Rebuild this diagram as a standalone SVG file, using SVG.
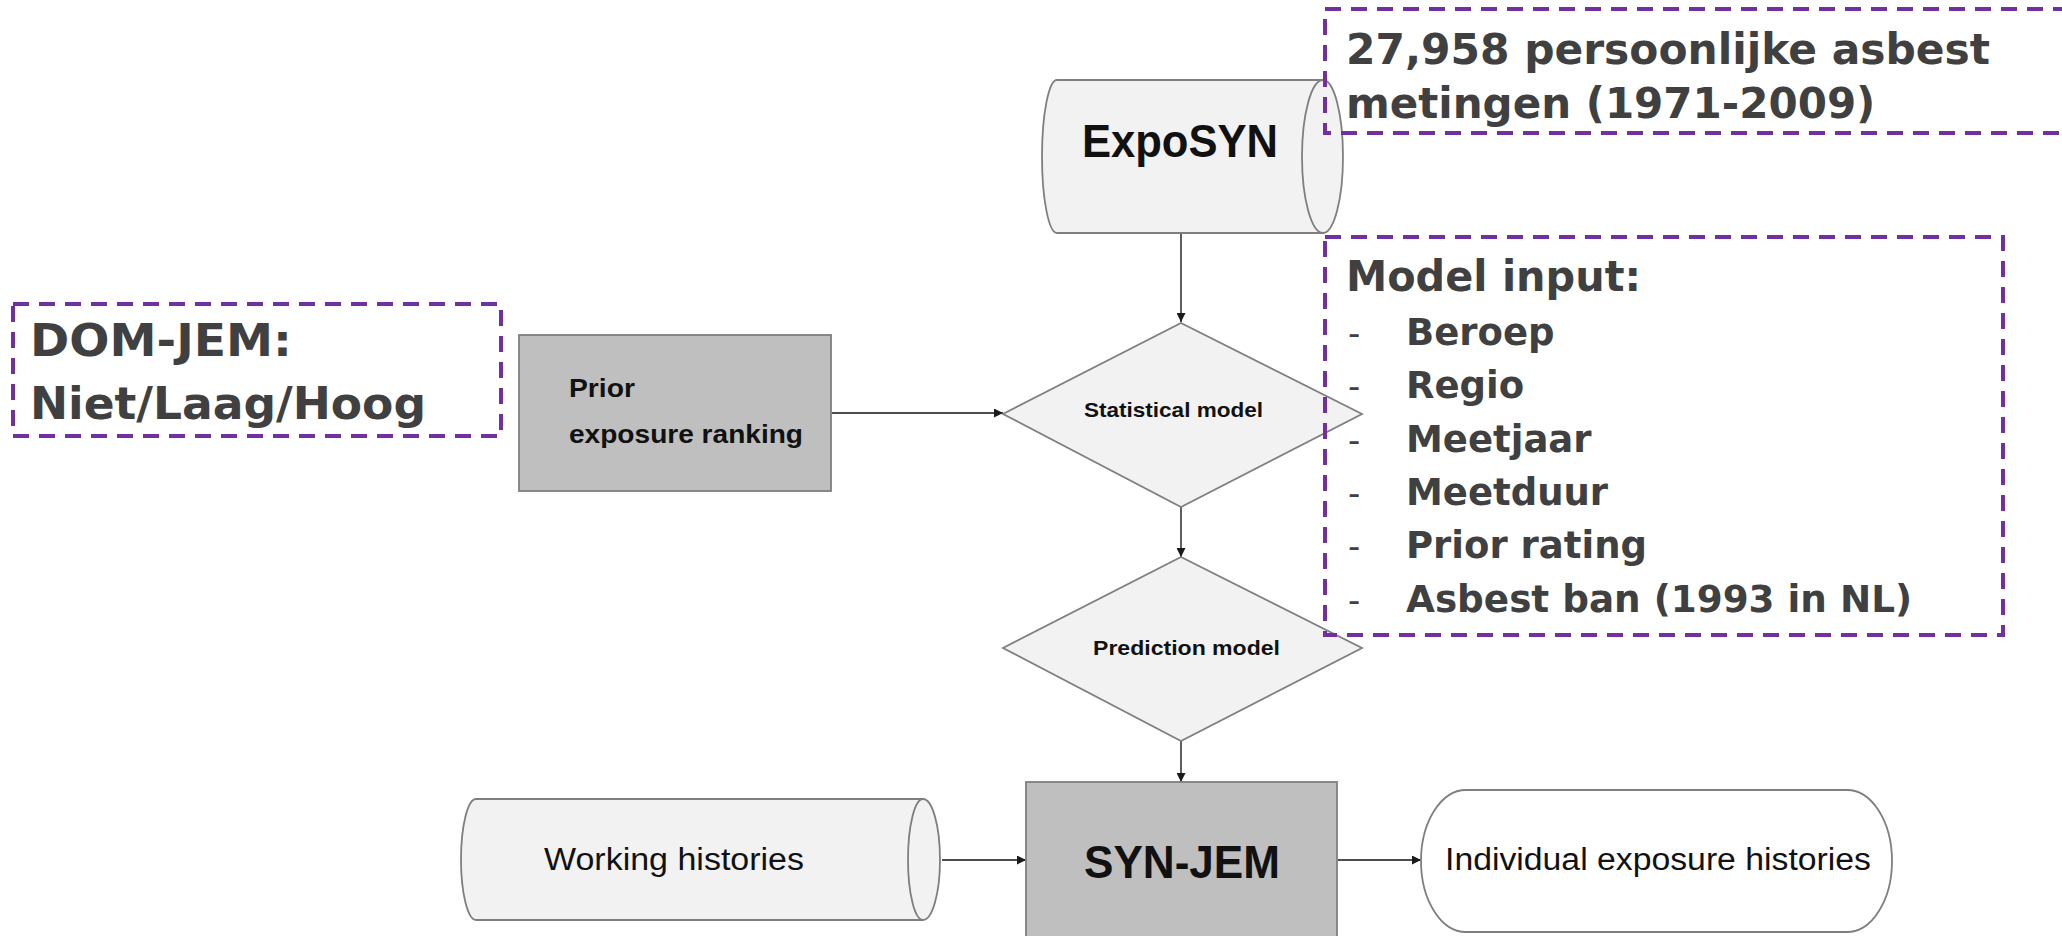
<svg xmlns="http://www.w3.org/2000/svg" width="2062" height="936" viewBox="0 0 2062 936">
<style>
.shape{fill:#F2F2F2;stroke:#7F7F7F;stroke-width:1.8}
.dark{fill:#BFBFBF;stroke:#7F7F7F;stroke-width:1.8}
.white{fill:#FFFFFF;stroke:#7F7F7F;stroke-width:1.8}
.conn{stroke:#4D4D4D;stroke-width:1.8;fill:none;marker-end:url(#arr)}
.note{fill:none;stroke:#7030A0;stroke-width:4;stroke-dasharray:16 10}
.nt{font-family:"Liberation Sans",Arial,sans-serif;fill:#111}
.ht{font-family:"DejaVu Sans",Verdana,sans-serif;font-weight:bold;fill:#404040}
.dash{font-family:"DejaVu Sans",Verdana,sans-serif;fill:#404040;font-size:34px}
</style>
<defs>
<marker id="arr" viewBox="0 0 10 10" refX="10" refY="5" markerWidth="9" markerHeight="9" markerUnits="userSpaceOnUse" orient="auto">
<path d="M0,0 L10,5 L0,10 Z" fill="#1a1a1a"/>
</marker>
</defs>

<g id="connectors">
<line class="conn" x1="1181" y1="234" x2="1181" y2="322"/>
<line class="conn" x1="832" y1="413" x2="1003" y2="413"/>
<line class="conn" x1="1181" y1="507" x2="1181" y2="557"/>
<line class="conn" x1="1181" y1="741" x2="1181" y2="782"/>
<line class="conn" x1="942" y1="860" x2="1026" y2="860"/>
<line class="conn" x1="1338" y1="860" x2="1421" y2="860"/>
</g>

<g id="exposyn">
<path class="shape" d="M1057,80 L1323,80 A20,76.5 0 0 1 1323,233 L1057,233 A15,76.5 0 0 1 1057,80 Z"/>
<path class="shape" d="M1323,80 A21,76.5 0 0 0 1323,233" fill="none"/>
<text class="nt" x="1180" y="157" font-size="47" font-weight="bold" text-anchor="middle" textLength="196" lengthAdjust="spacingAndGlyphs">ExpoSYN</text>
</g>

<g id="prior">
<rect class="dark" x="519" y="335" width="312" height="156"/>
<text class="nt" x="569" y="397" font-size="25" font-weight="bold" textLength="66" lengthAdjust="spacingAndGlyphs">Prior</text>
<text class="nt" x="569" y="443" font-size="25" font-weight="bold" textLength="234" lengthAdjust="spacingAndGlyphs">exposure ranking</text>
</g>

<g id="statistical">
<polygon class="shape" points="1181,323 1362,414 1181,507 1003,414"/>
<text class="nt" x="1084" y="417" font-size="21" font-weight="bold" textLength="179" lengthAdjust="spacingAndGlyphs">Statistical model</text>
</g>

<g id="prediction">
<polygon class="shape" points="1181,557 1362,648 1181,741 1003,648"/>
<text class="nt" x="1093" y="655" font-size="21" font-weight="bold" textLength="187" lengthAdjust="spacingAndGlyphs">Prediction model</text>
</g>

<g id="working">
<path class="shape" d="M476,799 L923,799 A17,60.5 0 0 1 923,920 L476,920 A15,60.5 0 0 1 476,799 Z"/>
<path class="shape" d="M923,799 A15,60.5 0 0 0 923,920" fill="none"/>
<text class="nt" x="674" y="870" font-size="31" text-anchor="middle" textLength="260" lengthAdjust="spacingAndGlyphs">Working histories</text>
</g>

<g id="synjem">
<rect class="dark" x="1026" y="782" width="311" height="170"/>
<text class="nt" x="1182" y="878" font-size="46" font-weight="bold" text-anchor="middle" textLength="196" lengthAdjust="spacingAndGlyphs">SYN-JEM</text>
</g>

<g id="individual">
<rect class="white" x="1421" y="790" width="471" height="142" rx="45" ry="71"/>
<text class="nt" x="1658" y="870" font-size="31" text-anchor="middle" textLength="426" lengthAdjust="spacingAndGlyphs">Individual exposure histories</text>
</g>

<g id="note-exposyn">
<rect class="note" x="1325" y="9" width="760" height="124"/>
<text class="ht" x="1346" y="64" font-size="42" textLength="644" lengthAdjust="spacingAndGlyphs">27,958 persoonlijke asbest</text>
<text class="ht" x="1346" y="118" font-size="42">metingen (1971-2009)</text>
</g>

<g id="note-domjem">
<rect class="note" x="13" y="304" width="488" height="132"/>
<text class="ht" x="30" y="356" font-size="44" textLength="262" lengthAdjust="spacingAndGlyphs">DOM-JEM:</text>
<text class="ht" x="30" y="419" font-size="44" textLength="396" lengthAdjust="spacingAndGlyphs">Niet/Laag/Hoog</text>
</g>

<g id="note-model">
<rect class="note" x="1325" y="237" width="678" height="398"/>
<text class="ht" x="1346" y="291" font-size="42" textLength="295" lengthAdjust="spacingAndGlyphs">Model input:</text>
<text class="dash" x="1348" y="345">-</text>
<text class="ht" x="1406" y="345" font-size="37">Beroep</text>
<text class="dash" x="1348" y="398">-</text>
<text class="ht" x="1406" y="398" font-size="37">Regio</text>
<text class="dash" x="1348" y="452">-</text>
<text class="ht" x="1406" y="452" font-size="37">Meetjaar</text>
<text class="dash" x="1348" y="505">-</text>
<text class="ht" x="1406" y="505" font-size="37">Meetduur</text>
<text class="dash" x="1348" y="558">-</text>
<text class="ht" x="1406" y="558" font-size="37">Prior rating</text>
<text class="dash" x="1348" y="612">-</text>
<text class="ht" x="1406" y="612" font-size="37" textLength="506" lengthAdjust="spacingAndGlyphs">Asbest ban (1993 in NL)</text>
</g>
</svg>
